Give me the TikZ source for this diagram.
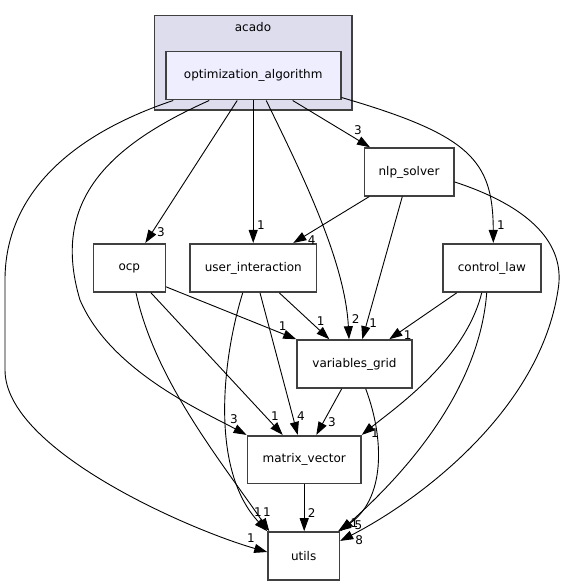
\documentclass[tikz,border=0pt]{standalone}
\usepackage{fontspec}
\setmainfont{DejaVu Sans}
\usetikzlibrary{arrows.meta}
\definecolor{boxline}{HTML}{404040}
\definecolor{clusterfill}{HTML}{DDDDEE}
\definecolor{optfill}{HTML}{EEEEFF}
\tikzset{
  box/.style={draw=boxline, line width=1.6pt, fill=white, rectangle, inner sep=0pt,
    font=\fontsize{12}{14}\selectfont, text=black},
  edge/.style={draw=black, line width=0.9pt, -{Triangle[length=13pt,width=9pt]}},
  elabel/.style={inner sep=0pt, font=\fontsize{12}{14}\selectfont},
}
\begin{document}
\begin{tikzpicture}[x=1pt,y=-1pt]
\useasboundingbox (0,0) rectangle (565,585);
% cluster
\draw[draw=boxline, line width=1.6pt, fill=clusterfill] (154.3,15.7) rectangle (352,110.3);
\node[elabel] (acado) at (253,27.5) {acado};
% nodes
\node[box, fill=optfill, minimum width=175pt, minimum height=48pt] (opt) at (253.2,75.7) {optimization\_algorithm};
\node[box, minimum width=89.4pt, minimum height=47.7pt] (nlp) at (409,171.9) {nlp\_solver};
\node[box, minimum width=72pt, minimum height=48.3pt] (ocp) at (129.3,267.9) {ocp};
\node[box, minimum width=126.7pt, minimum height=48.3pt] (ui) at (253.3,267.9) {user\_interaction};
\node[box, minimum width=97.7pt, minimum height=48.3pt] (cl) at (491.9,267.9) {control\_law};
\node[box, minimum width=115pt, minimum height=48pt] (vg) at (354.5,364) {variables\_grid};
\node[box, minimum width=113.7pt, minimum height=47.6pt] (mv) at (304.2,459.5) {matrix\_vector};
\node[box, minimum width=71.3pt, minimum height=48pt] (utils) at (303.7,556) {utils};
% edges from optimization_algorithm
\draw[edge] ([xshift=-80pt]opt.south) .. controls (70,135) and (5,195) .. (5,280) -- (5,370) .. controls (5,450) and (190,530) .. ([yshift=4pt]utils.west);
\node[elabel] (l1) at (251,538) {1};
\draw[edge] ([xshift=-44pt]opt.south) .. controls (110,145) and (50,200) .. (80,300) .. controls (110,370) and (200,410) .. (mv.north west);
\node[elabel] (l2) at (234,419) {3};
\draw[edge] ([xshift=-16pt]opt.south) -- ([xshift=16pt]ocp.north);
\node[elabel] (l3) at (161,232) {3};
\draw[edge] (opt.south) -- (opt.south |- ui.north);
\node[elabel] (l4) at (261,225) {1};
\draw[edge] ([xshift=13pt]opt.south) .. controls (300,170) and (345,260) .. ([xshift=-5.5pt]vg.north);
\node[elabel] (l5) at (355.7,319.3) {2};
\draw[edge] ([xshift=39.5pt]opt.south) -- ([xshift=-39pt]nlp.north);
\node[elabel] (l6) at (358,130) {3};
\draw[edge] ([yshift=3pt]opt.south east) .. controls (470,135) and (493,160) .. ([xshift=1.4pt]cl.north);
\node[elabel] (l7) at (501,225) {1};
% edges from nlp_solver
\draw[edge] ([xshift=-39.7pt]nlp.south) -- ([xshift=40pt]ui.north);
\node[elabel] (l8) at (311.7,240) {4};
\draw[edge] ([xshift=-6.7pt]nlp.south) -- ([xshift=7.8pt]vg.north);
\node[elabel] (l9) at (373.3,323.3) {1};
\draw[edge] ([yshift=-10pt]nlp.east) .. controls (540,210) and (565,250) .. (558,290) .. controls (540,410) and (420,500) .. ([yshift=-9.7pt]utils.north east);
\node[elabel] (l10) at (359.3,540) {8};
% edges from ocp
\draw[edge] ([yshift=6pt]ocp.south east) -- (vg.north west);
\node[elabel] (l11) at (282.7,326) {1};
\draw[edge] ([xshift=21.7pt]ocp.south) -- ([xshift=-21.5pt]mv.north);
\node[elabel] (l12) at (275,415.7) {1};
\draw[edge] ([xshift=6.7pt]ocp.south) .. controls (155,380) and (220,460) .. ([xshift=2pt]utils.north west);
\node[elabel] (l13) at (258,512) {1};
% edges from user_interaction
\draw[edge] ([xshift=26pt]ui.south) -- ([xshift=-25.2pt]vg.north);
\node[elabel] (l14) at (320.7,320.7) {1};
\draw[edge] ([xshift=6.7pt]ui.south) -- ([xshift=-6.5pt]mv.north);
\node[elabel] (l15) at (301,415.7) {4};
\draw[edge] ([xshift=-10.6pt]ui.south) .. controls (222,360) and (210,470) .. (utils.north west);
\node[elabel] (l16) at (267,512) {1};
% edges from control_law
\draw[edge] ([xshift=-35.2pt]cl.south) -- ([xshift=34.8pt]vg.north);
\node[elabel] (l17) at (407.7,335) {1};
\draw[edge] ([xshift=-10.2pt]cl.south) .. controls (465,360) and (395,408) .. (mv.north east);
\node[elabel] (l18) at (375,433.3) {1};
\draw[edge] ([xshift=-5.2pt]cl.south) .. controls (480,380) and (420,460) .. (utils.north east);
\node[elabel] (l19) at (358.5,525.7) {5};
% edges from variables_grid
\draw[edge] ([xshift=-12.8pt]vg.south) -- ([xshift=12.1pt]mv.north);
\node[elabel] (l20) at (332,422.3) {3};
\draw[edge] ([xshift=11.2pt]vg.south) .. controls (385,440) and (385,500) .. ([xshift=-2pt]utils.north east);
\node[elabel] (l21) at (354.5,523.3) {1};
% edge from matrix_vector
\draw[edge] (mv.south) -- (mv.south |- utils.north);
\node[elabel] (l22) at (311.7,512.7) {2};
\end{tikzpicture}
\end{document}
